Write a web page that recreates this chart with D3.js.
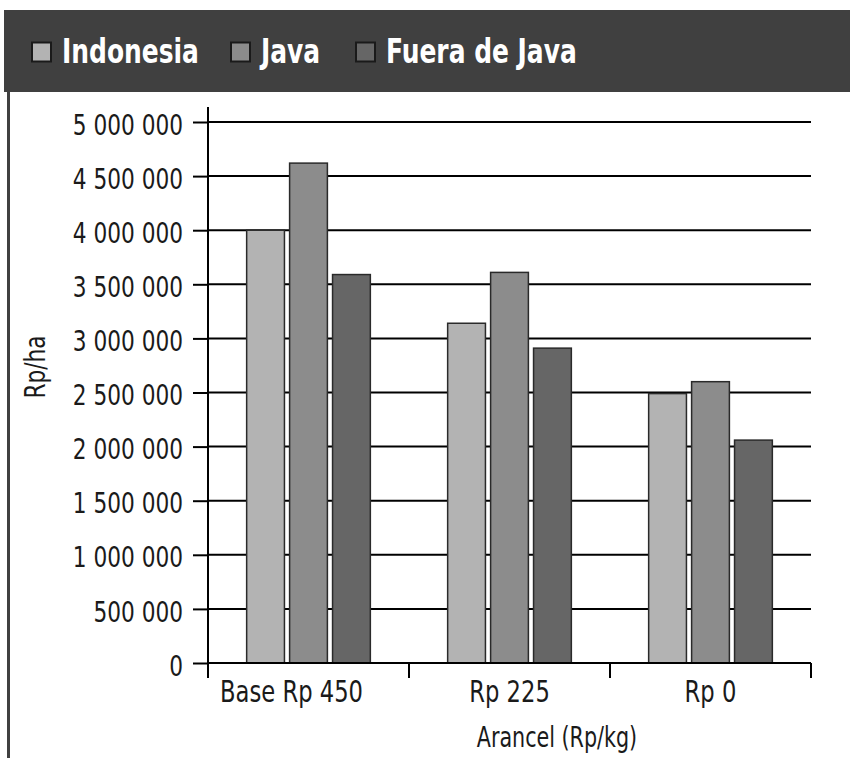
<!DOCTYPE html>
<html>
<head>
<meta charset="utf-8">
<script src="https://cdn.jsdelivr.net/npm/d3@7"></script>
<style>
  body { margin: 0; background: #fff; }
  text { font-family: "Liberation Sans Narrow", "DejaVu Sans Condensed", "Roboto Condensed", sans-serif; font-stretch: condensed; }
</style>
</head>
<body>
<div id="chart"></div>
<script>
//---- data -----/
var categories = ['Base Rp 450', 'Rp 225', 'Rp 0'];
var seriesNames = ['Indonesia', 'Java', 'Fuera de Java'];
var indonesia = [4000000, 3140000, 2490000];
var java = [4620000, 3610000, 2600000];
var fueraDeJava = [3590000, 2910000, 2060000];
var yTicks = [0, 500000, 1000000, 1500000, 2000000, 2500000, 3000000, 3500000, 4000000, 4500000, 5000000];
var colors = ['#b3b3b3', '#8c8c8c', '#666666'];
//---------------//

var width = 850, height = 759;
var svg = d3.select('#chart').append('svg')
            .attr('width', width)
            .attr('height', height);

// squeeze text horizontally so it looks like the narrow font of the original
function condense(sel, k){
  sel.each(function(){
    var w = this.getComputedTextLength();
    d3.select(this).attr('textLength', w * k).attr('lengthAdjust', 'spacingAndGlyphs');
  });
}

var series = [indonesia, java, fueraDeJava];
var rows = [];
categories.forEach(function(c, i){
  seriesNames.forEach(function(s, j){
    rows.push({cat: c, name: s, value: series[j][i]});
  });
});

//---- header band with legend ----//
svg.append('rect')
   .attr('x', 4).attr('y', 10)
   .attr('width', width - 4).attr('height', 82)
   .attr('fill', '#404040');

svg.append('line')
   .attr('x1', 8.5).attr('x2', 8.5)
   .attr('y1', 92).attr('y2', 758)
   .attr('stroke', '#404040').attr('stroke-width', 3);

var legendX = [32, 231, 356];
var legend = svg.selectAll('.legend').data(seriesNames).enter().append('g')
   .attr('class', 'legend')
   .attr('transform', function(d, i){ return 'translate(' + legendX[i] + ',42.5)'; });
legend.append('rect')
   .attr('width', 19).attr('height', 19)
   .attr('fill', function(d, i){ return colors[i]; })
   .attr('stroke', '#1a1a1a').attr('stroke-width', 2);
var legendText = legend.append('text')
   .attr('x', 30).attr('y', 20.5)
   .attr('fill', '#fff')
   .style('font-size', '33px').style('font-weight', 'bold')
   .text(function(d){ return d; });
condense(legendText, 0.84);

//---- scales ----//
var x = d3.scaleBand().domain(categories).range([208, 811]).padding(0);
var xInner = d3.scaleBand().domain(seriesNames).range([0, x.bandwidth()])
               .paddingInner(0.12).paddingOuter(0.9);
var y = d3.scaleLinear().domain([0, 5000000]).range([663, 122]);

var locale = d3.formatLocale({decimal: ',', thousands: ' ', grouping: [3], currency: ['', '']});
var fmt = locale.format(',');

//---- gridlines ----//
svg.selectAll('.grid').data(yTicks.filter(function(d){ return d > 0; })).enter().append('line')
   .attr('class', 'grid')
   .attr('x1', x.range()[0]).attr('x2', x.range()[1])
   .attr('y1', function(d){ return y(d); }).attr('y2', function(d){ return y(d); })
   .attr('stroke', '#000').attr('stroke-width', 2);

//---- bars ----//
svg.selectAll('.bar').data(rows).enter().append('rect')
   .attr('class', 'bar')
   .attr('x', function(d){ return x(d.cat) + xInner(d.name); })
   .attr('y', function(d){ return y(d.value); })
   .attr('width', xInner.bandwidth())
   .attr('height', function(d){ return y(0) - y(d.value); })
   .attr('fill', function(d){ return colors[seriesNames.indexOf(d.name)]; })
   .attr('stroke', '#2a2a2a').attr('stroke-width', 1.5);

//---- y axis ----//
var yAxis = svg.append('g')
   .attr('transform', 'translate(' + x.range()[0] + ',0)')
   .call(d3.axisLeft(y).tickValues(yTicks).tickSize(15).tickPadding(10).tickFormat(fmt));
yAxis.select('.domain').remove();
yAxis.selectAll('.tick line').attr('stroke', '#000').attr('stroke-width', 2);
var yLabels = yAxis.selectAll('.tick text')
   .attr('fill', '#1a1a1a').attr('dy', '0.42em')
   .style('font-size', '29px');
condense(yLabels, 0.83);
yAxis.append('line')
   .attr('x1', 0).attr('x2', 0)
   .attr('y1', y.range()[1] - 15).attr('y2', y(0) + 15)
   .attr('stroke', '#000').attr('stroke-width', 2);

//---- x axis ----//
var xAxis = svg.append('g');
xAxis.append('line')
   .attr('x1', x.range()[0]).attr('x2', x.range()[1])
   .attr('y1', y(0)).attr('y2', y(0))
   .attr('stroke', '#000').attr('stroke-width', 2);
var bounds = categories.map(function(c){ return x(c); }).concat([x.range()[1]]);
xAxis.selectAll('.xtick').data(bounds).enter().append('line')
   .attr('x1', function(d){ return d; }).attr('x2', function(d){ return d; })
   .attr('y1', y(0)).attr('y2', y(0) + 15)
   .attr('stroke', '#000').attr('stroke-width', 2);
var xLabels = xAxis.selectAll('.xlabel').data(categories).enter().append('text')
   .attr('x', function(d){ return x(d) + x.bandwidth() / 2 - (d === categories[0] ? 17 : 0); })
   .attr('y', y(0) + 39)
   .attr('text-anchor', 'middle')
   .attr('fill', '#1a1a1a')
   .style('font-size', '30px')
   .text(function(d){ return d; });
condense(xLabels, 0.84);

//---- axis titles ----//
var yTitle = svg.append('text')
   .attr('transform', 'translate(45,367) rotate(-90)')
   .attr('text-anchor', 'middle')
   .attr('fill', '#1a1a1a')
   .style('font-size', '29px')
   .text('Rp/ha');
condense(yTitle, 0.83);

var xTitle = svg.append('text')
   .attr('x', 557).attr('y', 747)
   .attr('text-anchor', 'middle')
   .attr('fill', '#1a1a1a')
   .style('font-size', '28px')
   .text('Arancel (Rp/kg)');
condense(xTitle, 0.82);
</script>
</body>
</html>
